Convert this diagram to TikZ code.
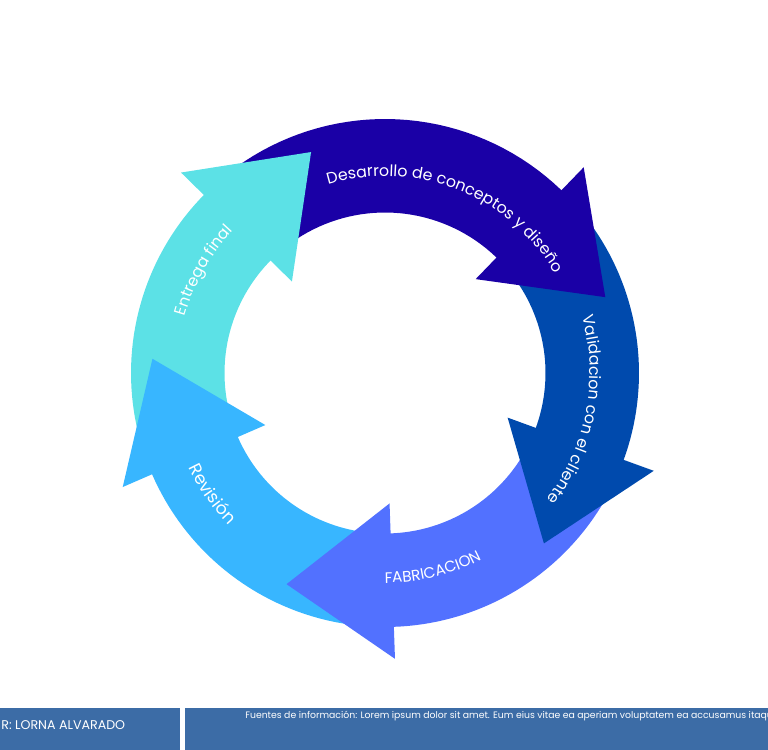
\documentclass[tikz,border=0pt]{standalone}
\usepackage{fontspec}
\setmainfont{Poppins}
\usepackage{xcolor}
\usepackage{tikz}
\usetikzlibrary{decorations.text}

\definecolor{entrega}{HTML}{5CE1E6}
\definecolor{desarrollo}{HTML}{1A00A6}
\definecolor{validacion}{HTML}{004AAD}
\definecolor{fabricacion}{HTML}{5271FF}
\definecolor{revision}{HTML}{38B6FF}
\definecolor{barra}{HTML}{3C6CA6}

\tikzset{
    ringlabel/.style 2 args={decorate, decoration={text along path, text align=center, text color=white, text={|\fontsize{#1}{12}\selectfont|#2}}},
    footertext/.style={text=white, inner sep=0pt, anchor=west}
}

\begin{document}
\begin{tikzpicture}[x=0.02cm, y=0.02cm]
    \useasboundingbox (0,0) rectangle (768,-750);

    % footer bars
    \fill[barra] (0,-708) rectangle (180,-750);
    \fill[barra] (185,-708) rectangle (768,-750);
    \node[footertext, font=\fontsize{7.2}{9}\selectfont] (autor) at (1,-725) {R: LORNA ALVARADO};
    \begin{scope}
        \clip (185,-708) rectangle (768,-750);
        \node[footertext, font=\fontsize{5.3}{6}\selectfont] (fuentes) at (245,-716) {Fuentes de información: Lorem ipsum dolor sit amet. Eum eius vitae ea aperiam voluptatem ea accusamus itaque};
    \end{scope}

    % ring of arrows
    \begin{scope}[shift={(385,-373)}]
        % bodies first (both ends tucked under a head)
        \foreach \tail/\base/\col in {203.5/135.5/entrega, 135.5/46/desarrollo, 46/-20/validacion, -20/-88/fabricacion, -88/-156.5/revision}
            \fill[\col] plot[domain=\tail-3:\base-2, samples=40] (\x:254) -- plot[domain=\base-2:\tail-3, samples=40] (\x:160.5) -- cycle;
        % then the heads on top
        \foreach \base/\col in {135.5/entrega, 46/desarrollo, -20/validacion, -88/fabricacion, -156.5/revision}
            \fill[\col] (\base:254) -- (\base:286) -- ({\base-27}:233) -- (\base:130.5) -- (\base:160.5) -- cycle;

        % labels
        \path[ringlabel={9}{Desarrollo de conceptos y diseño}] plot[domain=120:17, samples=80] (\x:197);
        \path[ringlabel={9}{Validacion con el cliente}] plot[domain=30:-52, samples=80] (\x:205);
        \path[ringlabel={8.7}{FABRICACION}] plot[domain=-105:-47.6, samples=60] (\x:210);
        \path[ringlabel={9.8}{Revisión}] plot[domain=195:235, samples=60] (\x:218);
        \path[ringlabel={9}{Entrega final}] plot[domain=175:126, samples=60] (\x:208);
    \end{scope}
\end{tikzpicture}
\end{document}
